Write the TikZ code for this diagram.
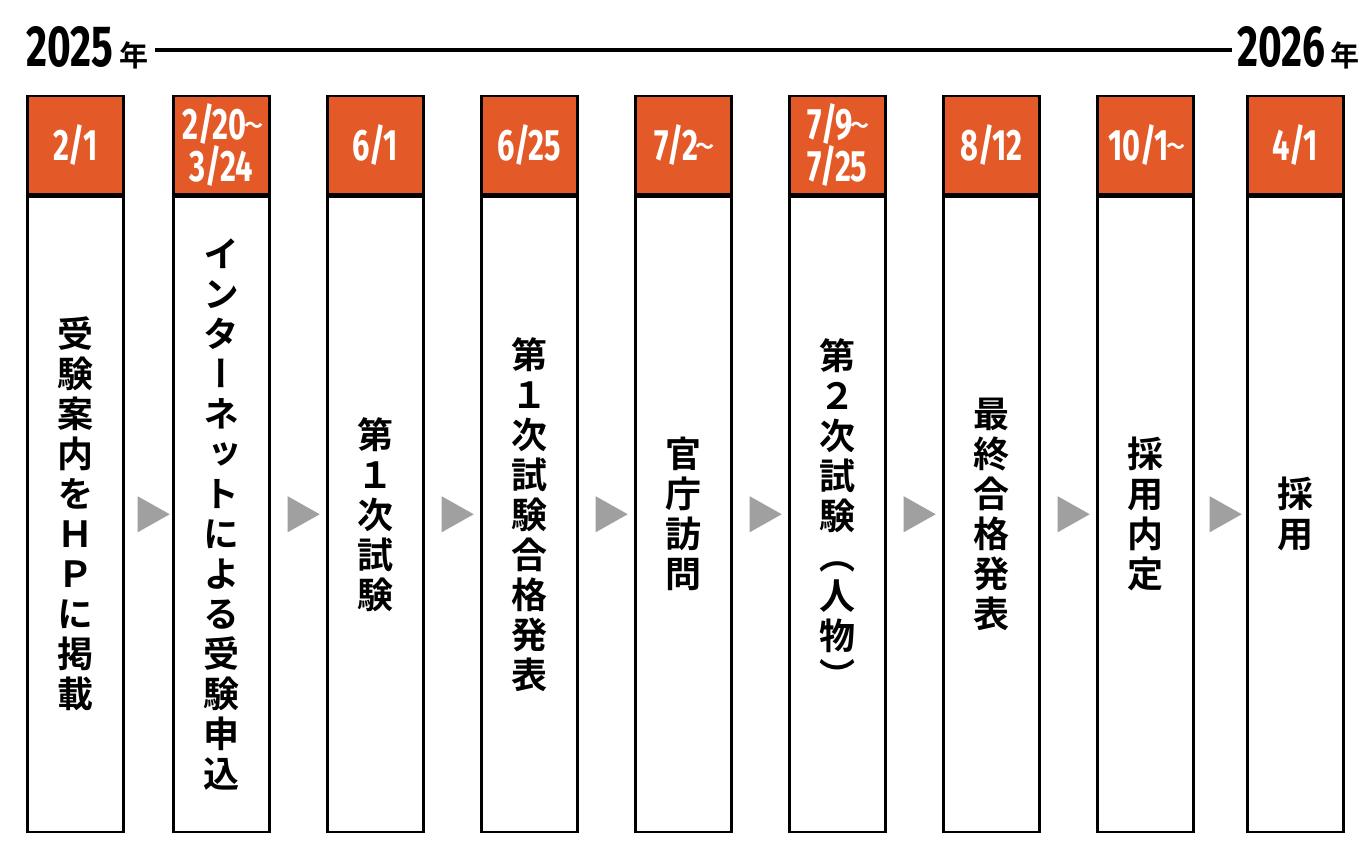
\documentclass[tikz,border=0pt]{standalone}
\usepackage{fontspec}
\usetikzlibrary{shapes.geometric,calc}

\newfontfamily\jpfont{Noto Sans CJK JP Bold}[RawFeature=+vert]
\newfontfamily\jpyear{Noto Sans CJK JP Bold}
\newfontfamily\jpthin{Noto Sans CJK JP}
\newfontfamily\numfont{Fira Sans}[FakeStretch=0.7]
\newcommand\wave{\kern-2.5pt\raisebox{7pt}{\jpthin\fontsize{19}{19}\selectfont 〜}\kern-3pt}
\definecolor{headorange}{RGB}{227,90,40}
\definecolor{arrowgray}{RGB}{160,160,160}

\begin{document}
\begin{tikzpicture}[
  x=1pt, y=-1pt,
  every path/.style={line width=2.5pt},
  yearnum/.style={font=\numfont\bfseries\fontsize{58}{58}\selectfont,
    inner sep=0pt, anchor=base west},
  yearunit/.style={font=\jpyear\fontsize{29}{29}\selectfont,
    inner sep=0pt, anchor=base west},
  timeline/.style={line width=3.5pt},
  datehead/.style={draw, fill=headorange, text=white,
    minimum width=96pt, minimum height=98pt, inner sep=0pt,
    anchor=north west, align=center,
    font=\numfont\bfseries\fontsize{44}{40}\selectfont},
  stepbody/.style={draw, minimum width=96pt, minimum height=635pt,
    inner sep=0pt, anchor=north, align=center,
    font=\jpfont\fontsize{36}{40}\selectfont},
  nextmark/.style={isosceles triangle, isosceles triangle stretches,
    fill=arrowgray, draw=none, minimum height=32pt, minimum width=36pt,
    inner sep=0pt},
  ]
  \useasboundingbox (0,0) rectangle (1366,864);

  % years and time line
  \node[yearnum] (y2025) at (25,67) {2025};
  \node[yearunit] (y2025u) at ([xshift=4pt]y2025.base east) {年};
  \node[yearnum] (y2026) at (1236,67) {2026};
  \node[yearunit] (y2026u) at ([xshift=3pt]y2026.base east) {年};
  \coordinate (lineL) at ([xshift=5pt]y2025u.east);
  \coordinate (lineR) at ([xshift=-4pt]y2026.west);
  \draw[timeline] (lineL |- 0,50) -- (lineR |- 0,50);

  % steps
  \foreach \i/\xx/\when/\what in {
    1/25/{2/1}/{受\\験\\案\\内\\を\\Ｈ\\Ｐ\\に\\掲\\載},
    2/171/{2/20\wave\\3/24}/{イ\\ン\\タ\\ー\\ネ\\ッ\\ト\\に\\よ\\る\\受\\験\\申\\込},
    3/325/{6/1}/{第\\１\\次\\試\\験},
    4/479/{6/25}/{第\\１\\次\\試\\験\\合\\格\\発\\表},
    5/633/{7/2\wave}/{官\\庁\\訪\\問},
    6/787/{7/9\wave\\7/25}/{第\\２\\次\\試\\験\\（\\人\\物\\）},
    7/941/{8/12}/{最\\終\\合\\格\\発\\表},
    8/1095/{10/1\wave}/{採\\用\\内\\定},
    9/1245/{4/1}/{採\\用}}
  {
    \node[datehead] (head\i) at (\xx+1,95) {\when};
    \node[stepbody] (body\i) at (head\i.south) {\what};
  }

  % arrows between steps
  \foreach \i [evaluate=\i as \j using int(\i+1)] in {1,...,8}
    \node[nextmark] (mark\i) at ($(body\i.east)!0.5!(body\j.west)$) {};
\end{tikzpicture}
\end{document}
